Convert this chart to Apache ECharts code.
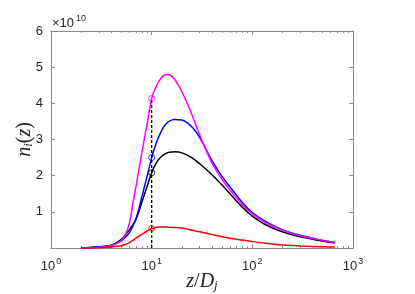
<!DOCTYPE html>
<html><head><meta charset="utf-8">
<script src="https://cdn.jsdelivr.net/npm/echarts@6/dist/echarts.min.js"></script>
<style>html,body{margin:0;padding:0;background:#fff;}#c{width:415px;height:294px;}</style>
</head><body><div id="c"></div>
<script>
// z/Dj sample positions
const zValues = [2, 3, 4, 5, 5.5, 6, 6.5, 7, 7.5, 8, 9, 10, 11, 12, 13, 14, 15, 17, 20, 25, 30, 40, 50, 60, 80, 100, 130, 170, 220, 300, 400, 520, 660];
// n_i(z) in units of 1e10
const magentaValues = [0, 0.02, 0.07, 0.2, 0.38, 0.68, 1.22, 1.72, 2.2, 2.65, 3.42, 4.13, 4.45, 4.64, 4.76, 4.8, 4.79, 4.66, 4.32, 3.7, 3.12, 2.33, 1.9, 1.6, 1.19, 0.94, 0.73, 0.57, 0.445, 0.34, 0.26, 0.2, 0.15];
const blueValues    = [0, 0.025, 0.08, 0.2, 0.3, 0.42, 0.6, 0.82, 1.1, 1.42, 1.98, 2.5, 2.87, 3.13, 3.32, 3.44, 3.51, 3.55, 3.54, 3.35, 3.05, 2.4, 1.98, 1.69, 1.25, 0.98, 0.76, 0.59, 0.46, 0.35, 0.27, 0.2, 0.155];
const blackValues   = [0, 0.035, 0.08, 0.24, 0.37, 0.5, 0.64, 0.8, 1.02, 1.27, 1.7, 2.08, 2.33, 2.48, 2.57, 2.62, 2.65, 2.66, 2.63, 2.5, 2.33, 2.02, 1.74, 1.5, 1.12, 0.88, 0.67, 0.52, 0.41, 0.31, 0.24, 0.18, 0.14];
const redValues     = [0, 0.01, 0.03, 0.06, 0.1, 0.15, 0.21, 0.27, 0.33, 0.38, 0.47, 0.54, 0.565, 0.578, 0.582, 0.58, 0.577, 0.568, 0.552, 0.49, 0.45, 0.37, 0.31, 0.27, 0.22, 0.18, 0.135, 0.1, 0.078, 0.056, 0.042, 0.032, 0.025];
const markerZ = 10;
const markerValues = { magenta: 4.13, blue: 2.5, black: 2.08, red: 0.54 };
const yTicks = [0, 1, 2, 3, 4, 5, 6];
const xTicks = [1, 10, 100, 1000];

// minor tick positions of the log axis (2..9 within each decade)
const minorTicks = [];
for (let d = 0; d < xTicks.length - 1; d++) for (let k = 2; k <= 9; k++) minorTicks.push(k * xTicks[d]);

const pair = vals => zValues.map((z, i) => [z, vals[i]]);
const axisCol = '#8a8a8a';
const txtCol = '#262626';
const supLabel = v => '{b|10}{s|' + Math.round(Math.log10(v)) + '}';
const richSup = {
  b: { fontSize: 13, color: txtCol, fontFamily: 'Liberation Sans' },
  s: { fontSize: 9, color: txtCol, fontFamily: 'Liberation Sans', verticalAlign: 'top', padding: [0, 0, 9, 1] }
};
const mathRich = {
  i: { fontFamily: 'Liberation Serif', fontStyle: 'italic', fontSize: 20, color: txtCol },
  n: { fontFamily: 'Liberation Serif', fontSize: 20, color: txtCol },
  sub: { fontFamily: 'Liberation Serif', fontStyle: 'italic', fontSize: 13, color: txtCol, verticalAlign: 'bottom', padding: [7, 0, 0, 0] }
};

const lineSeries = (name, vals, color) => ({
  name, type: 'line', data: pair(vals), smooth: 0.3, showSymbol: false,
  lineStyle: { color, width: 1.5 }, itemStyle: { color }, z: 3
});
const marker = (val, color) => ({
  type: 'scatter', data: [[markerZ, val]], symbol: 'circle', symbolSize: 6,
  itemStyle: { color: 'rgba(0,0,0,0)', borderColor: color, borderWidth: 1 }, z: 5
});
const logAxis = extra => Object.assign({
  type: 'log', logBase: 10, min: xTicks[0], max: xTicks[xTicks.length - 1],
  axisLine: { onZero: false, lineStyle: { color: axisCol, width: 1 } },
  axisTick: { inside: true, length: 4, lineStyle: { color: axisCol } },
  splitLine: { show: false }
}, extra);
const minorLogAxis = pos => logAxis({
  position: pos,
  axisLine: { show: false, onZero: false },
  axisTick: { inside: true, length: 2, customValues: minorTicks, lineStyle: { color: axisCol } },
  axisLabel: { show: false }
});
const valAxis = extra => Object.assign({
  type: 'value', min: yTicks[0], max: yTicks[yTicks.length - 1], interval: 1,
  axisLine: { show: true, onZero: false, lineStyle: { color: axisCol, width: 1 } },
  axisTick: { show: true, inside: true, length: 4, lineStyle: { color: axisCol } },
  splitLine: { show: false }
}, extra);

const chart = echarts.init(document.getElementById('c'), null, { renderer: 'canvas' });
chart.setOption({
  animation: false,
  grid: { left: 51, right: 62, top: 31, bottom: 46, outerBoundsMode: 'none' },
  xAxis: [
    logAxis({
      position: 'bottom',
      axisLabel: { formatter: supLabel, rich: richSup, margin: 9 },
      name: '{i|z}{n|/}{i|D}{sub|j}', nameLocation: 'middle', nameGap: 24, nameMoveOverlap: false,
      nameTextStyle: { rich: mathRich }
    }),
    logAxis({ position: 'top', axisLabel: { show: false } }),
    minorLogAxis('bottom'),
    minorLogAxis('top')
  ],
  yAxis: [
    valAxis({
      position: 'left',
      axisLabel: { formatter: v => (v === 0 ? '' : String(v)), color: txtCol, fontSize: 13, fontFamily: 'Liberation Sans', margin: 8 },
      name: '{i|n}{sub|i}{n|(}{i|z}{n|)}', nameLocation: 'middle', nameRotate: 90, nameGap: 16, nameMoveOverlap: false,
      nameTextStyle: { rich: mathRich }
    }),
    valAxis({ position: 'right', axisLabel: { show: false } })
  ],
  graphic: [{
    type: 'text', left: 52, top: 14,
    style: { text: '{m|×10}{s|10}', rich: {
      m: { fontSize: 13, fill: txtCol, fontFamily: 'Liberation Sans' },
      s: { fontSize: 9, fill: txtCol, fontFamily: 'Liberation Sans', verticalAlign: 'top', padding: [0, 0, 9, 2] }
    } }
  }],
  series: [
    lineSeries('black', blackValues, '#000000'),
    lineSeries('blue', blueValues, '#0000ff'),
    lineSeries('magenta', magentaValues, '#ff00ff'),
    lineSeries('red', redValues, '#ff0000'),
    { type: 'line', data: [[markerZ, 0], [markerZ, markerValues.magenta]], showSymbol: false,
      lineStyle: { color: '#000', width: 1.3, type: [3, 2] }, z: 4 },
    marker(markerValues.magenta, '#ff00ff'),
    marker(markerValues.blue, '#0000ff'),
    marker(markerValues.black, '#000000'),
    marker(markerValues.red, '#ff0000')
  ]
});
</script></body></html>
